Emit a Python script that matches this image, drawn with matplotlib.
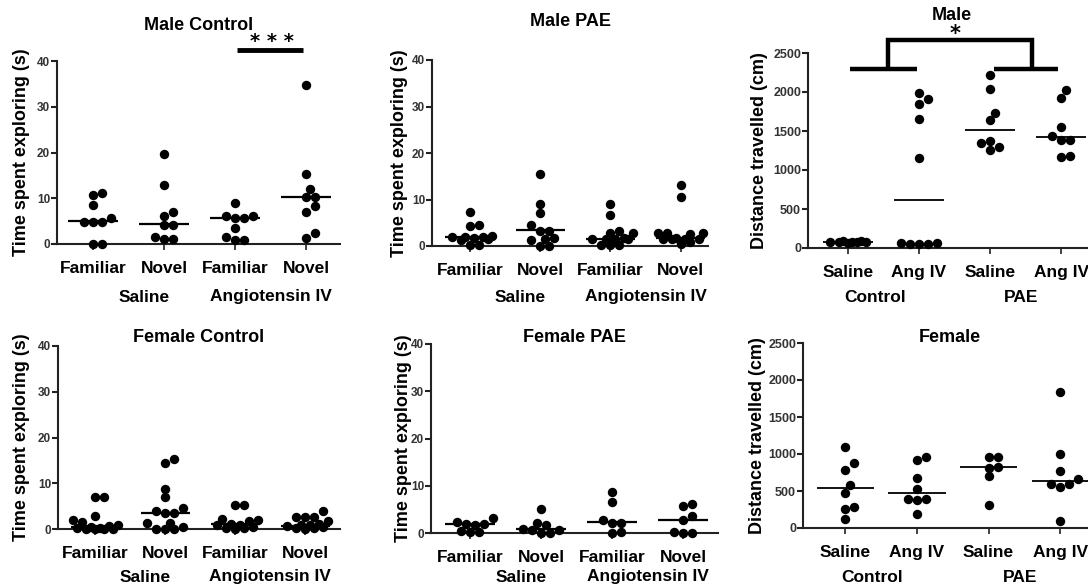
import numpy as np
import matplotlib
matplotlib.use('Agg')
import matplotlib.pyplot as plt

plt.rcParams['font.family'] = ['Liberation Sans', 'DejaVu Sans']
plt.rcParams['font.weight'] = 'bold'

# ---- data ----
time_labels = ['Familiar', 'Novel', 'Familiar', 'Novel']
dist_labels = ['Saline', 'Ang IV', 'Saline', 'Ang IV']

male_control = [
    [11.1, 10.8, 8.6, 5.7, 4.8, 4.8, 4.9, 0.0, 0.0],
    [19.6, 12.9, 7.0, 6.2, 4.1, 4.1, 1.5, 1.1, 1.1],
    [8.9, 6.2, 6.2, 5.6, 5.6, 3.6, 1.5, 0.8, 0.8],
    [34.8, 15.3, 12.0, 10.3, 10.3, 8.2, 7.1, 2.4, 1.3],
]
male_control_med = [5.0, 4.3, 5.7, 10.2]

male_pae = [
    [7.3, 4.5, 4.4, 2.2, 2.0, 2.0, 1.9, 1.8, 1.6, 1.2, 0.3, 0.2],
    [15.4, 9.0, 7.2, 4.5, 3.3, 3.3, 1.8, 1.6, 1.2, 0.1, 0.1],
    [9.1, 6.6, 3.2, 2.9, 2.9, 1.7, 1.6, 1.6, 1.6, 1.5, 0.3, 0.2, 0.2],
    [13.2, 10.6, 2.8, 2.8, 2.8, 2.6, 1.8, 1.6, 1.6, 1.6, 1.5, 0.8, 0.4],
]
male_pae_med = [1.9, 3.5, 1.6, 1.7]

male_dist = [
    [85, 80, 78, 75, 72, 82, 70, 88],
    [1985, 1908, 1844, 1651, 1149, 62, 55, 50, 48, 58],
    [2220, 2035, 1733, 1638, 1375, 1345, 1289, 1259],
    [2026, 1927, 1552, 1440, 1388, 1380, 1181, 1164],
]
male_dist_med = [80, 620, 1513, 1423]

female_control = [
    [7.0, 7.0, 2.8, 1.9, 1.6, 0.8, 0.6, 0.5, 0.3, 0.2, 0.1, 0.1, 0.0, 0.0],
    [15.2, 14.5, 8.8, 6.9, 4.5, 3.9, 3.6, 3.6, 1.4, 1.4, 0.4, 0.1, 0.1, 0.1],
    [5.3, 5.3, 2.2, 1.9, 1.8, 1.0, 0.8, 0.8, 0.5, 0.3, 0.2, 0.1],
    [4.0, 2.7, 2.6, 2.6, 1.8, 1.2, 0.9, 0.8, 0.6, 0.5, 0.3, 0.2, 0.0],
]
female_control_med = [0.5, 3.5, 1.0, 0.7]

female_pae = [
    [3.2, 2.4, 2.0, 1.8, 1.7, 0.4, 0.2, 0.2],
    [5.0, 2.1, 1.6, 0.9, 0.7, 0.6, 0.1, 0.0],
    [8.7, 6.5, 2.8, 2.1, 2.1, 0.3, 0.0],
    [6.1, 5.8, 3.7, 2.7, 0.2, 0.1, 0.0],
]
female_pae_med = [1.8, 0.9, 2.3, 2.7]

female_dist = [
    [1101, 873, 783, 583, 478, 283, 260, 128],
    [955, 919, 682, 532, 396, 396, 373, 191],
    [955, 955, 823, 814, 696, 305],
    [1842, 1001, 773, 660, 592, 592, 556, 91],
]
female_dist_med = [542, 469, 828, 637]

# ---- figure ----
W, H = 1088, 587
fig = plt.figure(figsize=(W / 100, H / 100), dpi=100)


def px_axes(left, top, right, bottom):
    return fig.add_axes([left / W, 1 - bottom / H, (right - left) / W, (bottom - top) / H])


def swarm(ax, x0, vals, diam=9.0, maxoff=24):
    # simple beeswarm in pixel space
    tr = ax.transData
    ppc = tr.transform((1, 0))[0] - tr.transform((0, 0))[0]
    step = diam * 0.5
    cands = [0.0]
    k = 1
    while k * step <= maxoff:
        cands += [k * step, -k * step]
        k += 1
    placed = []
    xs = np.zeros(len(vals))
    for i in np.argsort(vals, kind='stable'):
        y = tr.transform((x0, vals[i]))[1]
        best, bestd = 0.0, -1
        for c in cands:
            d = min([np.hypot(c - px, y - py) for px, py in placed], default=1e9)
            if d >= diam * 0.9:
                best = c
                break
            if d > bestd:
                best, bestd = c, d
        placed.append((best, y))
        xs[i] = x0 + best / ppc
    return xs


def panel(box, xlim, ymax, ystep, groups, meds, labels, title, title_dy,
          ylabel, ylab_off, group_text, group_dy, ytick_size, med_w=0.35, med_lw=1.6):
    ax = px_axes(*box)
    ax.set_xlim(*xlim)
    ax.set_ylim(0, ymax)
    for s in ['top', 'right']:
        ax.spines[s].set_visible(False)
    for s in ['left', 'bottom']:
        ax.spines[s].set_linewidth(1.5)
        ax.spines[s].set_color('#222222')
    ax.set_yticks(np.arange(0, ymax + 1, ystep))
    ax.tick_params(axis='y', length=4, width=1.5, color='#222222', labelsize=ytick_size,
                   labelcolor='#333333', pad=1)
    ax.set_xticks(range(4))
    ax.set_xticklabels(labels, fontweight='bold')
    ax.tick_params(axis='x', length=4, width=1.2, color='#222222', labelsize=12.5, pad=8)
    for i, vals in enumerate(groups):
        xs = swarm(ax, i, vals)
        ax.scatter(xs, vals, s=46, color='black', linewidths=0, clip_on=False, zorder=3)
        ax.hlines(meds[i], i - med_w, i + med_w, color='black', lw=med_lw, zorder=4)
    ax.annotate(title, xy=(0.5, 1), xycoords='axes fraction', xytext=(0, title_dy),
                textcoords='offset pixels', ha='center', va='center', fontsize=13,
                fontweight='bold')
    ax.set_ylabel(ylabel, fontsize=13, fontweight='bold', va='center', ha='center')
    ax.yaxis.set_label_coords(-ylab_off / (box[2] - box[0]), 0.5)
    for gx, gt in group_text:
        ax.annotate(gt, xy=(gx, 0), xycoords=('data', 'axes fraction'), xytext=(0, -group_dy),
                    textcoords='offset pixels', ha='center', va='center', fontsize=12.5,
                    fontweight='bold')
    return ax


time_groups = [(0.72, 'Saline'), (2.5, 'Angiotensin IV')]
dist_groups = [(0.38, 'Control'), (2.44, 'PAE')]
ylab_t = 'Time spent exploring (s)'
ylab_d = 'Distance travelled (cm)'

ax1 = panel((57, 61, 340, 244), (-0.51, 3.48), 40, 10, male_control, male_control_med,
            time_labels, 'Male Control', 36, ylab_t, 35, time_groups, 53, 8.5)
ax2 = panel((432, 60, 708, 246), (-0.54, 3.39), 40, 10, male_pae, male_pae_med,
            time_labels, 'Male PAE', 38, ylab_t, 32, time_groups, 51, 8.5)
ax3 = panel((808, 53, 1096, 248), (-0.56, 3.49), 2500, 500, male_dist, male_dist_med,
            dist_labels, 'Male', 38, ylab_d, 49, dist_groups, 49, 9, med_lw=1.3)
ax4 = panel((58, 346, 340, 529), (-0.53, 3.5), 40, 10, female_control, female_control_med,
            time_labels, 'Female Control', 9, ylab_t, 36, time_groups, 48, 8.5)
ax5 = panel((431, 344, 718, 533), (-0.55, 3.49), 40, 10, female_pae, female_pae_med,
            time_labels, 'Female PAE', 7, ylab_t, 28, time_groups, 44, 8.5)
ax6 = panel((803, 343, 1096, 528), (-0.59, 3.5), 2500, 500, female_dist, female_dist_med,
            dist_labels, 'Female', 6, ylab_d, 45, dist_groups, 49, 9, med_w=0.4, med_lw=1.3)

# significance marks
ax1.plot([2.03, 2.96], [42.4, 42.4], color='black', lw=3.5, clip_on=False, solid_capstyle='butt')
ax1.text(2.52, 43.0, '* * *', ha='center', va='baseline', fontsize=14, fontweight='bold',
         family='DejaVu Sans')

bk = dict(color='black', lw=3.2, clip_on=False, solid_capstyle='butt')
ax3.plot([0.03, 0.97], [2294, 2294], **bk)
ax3.plot([2.06, 2.96], [2294, 2294], **bk)
ax3.plot([0.56, 0.56, 2.59, 2.59], [2294, 2671, 2671, 2294], solid_joinstyle='miter', **bk)
ax3.text(1.51, 2665, '*', ha='center', va='baseline', fontsize=15, fontweight='bold',
         family='DejaVu Sans')

fig.savefig('out.png', dpi=100)
